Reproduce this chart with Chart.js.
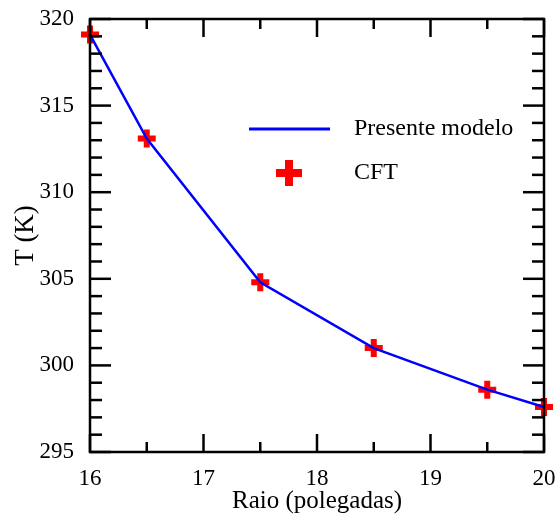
<!DOCTYPE html>
<html>
<head>
<meta charset="utf-8">
<script src="https://cdn.jsdelivr.net/npm/chart.js@4/dist/chart.umd.min.js"></script>
<style>
html,body{margin:0;padding:0;background:#fff;}
#wrap{width:559px;height:521px;position:relative;}
</style>
</head>
<body>
<div id="wrap"><canvas id="c" width="559" height="521"></canvas></div>
<script>
const raio = [16, 16.5, 17.5, 18.5, 19.5, 20];
const modeloT = [319.1, 313.1, 304.8, 301.0, 298.6, 297.6];
const cftT = [319.1, 313.1, 304.8, 301.0, 298.6, 297.6];
const xMajorTicks = [16, 17, 18, 19, 20];
const xMinorTicks = [16.5, 17.5, 18.5, 19.5];
const yMajorTicks = [295, 300, 305, 310, 315, 320];
const yMinorTicks = [296,297,298,299,301,302,303,304,306,307,308,309,311,312,313,314,316,317,318,319];
const seriesNames = ['Presente modelo', 'CFT'];

const FONT = '"Liberation Serif", "Times New Roman", serif';

const framePlugin = {
  id: 'frame',
  afterDraw(chart) {
    const ctx = chart.ctx, a = chart.chartArea;
    const xs = chart.scales.x, ys = chart.scales.y;
    ctx.save();
    ctx.strokeStyle = '#000';
    ctx.lineWidth = 2.5;
    ctx.lineCap = 'butt';
    ctx.strokeRect(a.left, a.top, a.right - a.left, a.bottom - a.top);
    const tick = (x1, y1, x2, y2) => { ctx.beginPath(); ctx.moveTo(x1, y1); ctx.lineTo(x2, y2); ctx.stroke(); };
    xMajorTicks.forEach(v => { const p = xs.getPixelForValue(v); tick(p, a.bottom, p, a.bottom - 18); tick(p, a.top, p, a.top + 18); });
    xMinorTicks.forEach(v => { const p = xs.getPixelForValue(v); tick(p, a.bottom, p, a.bottom - 10); tick(p, a.top, p, a.top + 10); });
    yMajorTicks.forEach(v => { const p = ys.getPixelForValue(v); tick(a.left, p, a.left + 21, p); tick(a.right, p, a.right - 21, p); });
    yMinorTicks.forEach(v => { const p = ys.getPixelForValue(v); tick(a.left, p, a.left + 12, p); tick(a.right, p, a.right - 12, p); });

    // legend
    ctx.strokeStyle = '#0000ff';
    ctx.lineWidth = 3;
    tick(249, 129, 330, 129);
    ctx.strokeStyle = '#ff0000';
    ctx.lineWidth = 8;
    tick(276, 173, 302, 173);
    tick(289, 160, 289, 186);
    ctx.fillStyle = '#000';
    ctx.font = '24px ' + FONT;
    ctx.textAlign = 'left';
    ctx.textBaseline = 'middle';
    ctx.fillText(seriesNames[0], 354, 129);
    ctx.fillText(seriesNames[1], 354, 173);
    ctx.restore();
  }
};

function noPad(s) { s.paddingTop = 0; s.paddingBottom = 0; s.paddingLeft = 0; s.paddingRight = 0; }

new Chart(document.getElementById('c'), {
  type: 'line',
  data: {
    datasets: [
      {
        label: seriesNames[0],
        data: raio.map((x, i) => ({x: x, y: modeloT[i]})),
        borderColor: '#0000ff',
        borderWidth: 2.5,
        pointRadius: 0,
        tension: 0,
        fill: false
      },
      {
        label: seriesNames[1],
        data: raio.map((x, i) => ({x: x, y: cftT[i]})),
        showLine: false,
        pointStyle: 'cross',
        pointRadius: 9,
        pointBorderWidth: 6,
        pointBorderColor: '#ff0000',
        pointBackgroundColor: '#ff0000'
      }
    ]
  },
  options: {
    responsive: false,
    animation: false,
    clip: false,
    layout: { padding: { left: 0, right: 13, top: 19, bottom: 0 } },
    plugins: { legend: { display: false }, tooltip: { enabled: false } },
    scales: {
      x: {
        type: 'linear',
        min: 16, max: 20,
        grid: { display: false, drawTicks: false },
        border: { display: false },
        ticks: { stepSize: 1, padding: 13, color: '#000', font: { family: FONT, size: 23 }, maxRotation: 0 },
        title: { display: true, text: 'Raio (polegadas)', color: '#000', font: { family: FONT, size: 25 }, padding: { top: 0, bottom: 5 } },
        afterFit(s) { s.height = 69; noPad(s); }
      },
      y: {
        type: 'linear',
        min: 295, max: 320,
        grid: { display: false, drawTicks: false },
        border: { display: false },
        ticks: { stepSize: 5, padding: 16, color: '#000', font: { family: FONT, size: 23 } },
        title: { display: true, text: 'T (K)', color: '#000', font: { family: FONT, size: 27 }, padding: { top: 10, bottom: 0 } },
        afterFit(s) { s.width = 90; noPad(s); }
      }
    }
  },
  plugins: [framePlugin]
});
</script>
</body>
</html>
